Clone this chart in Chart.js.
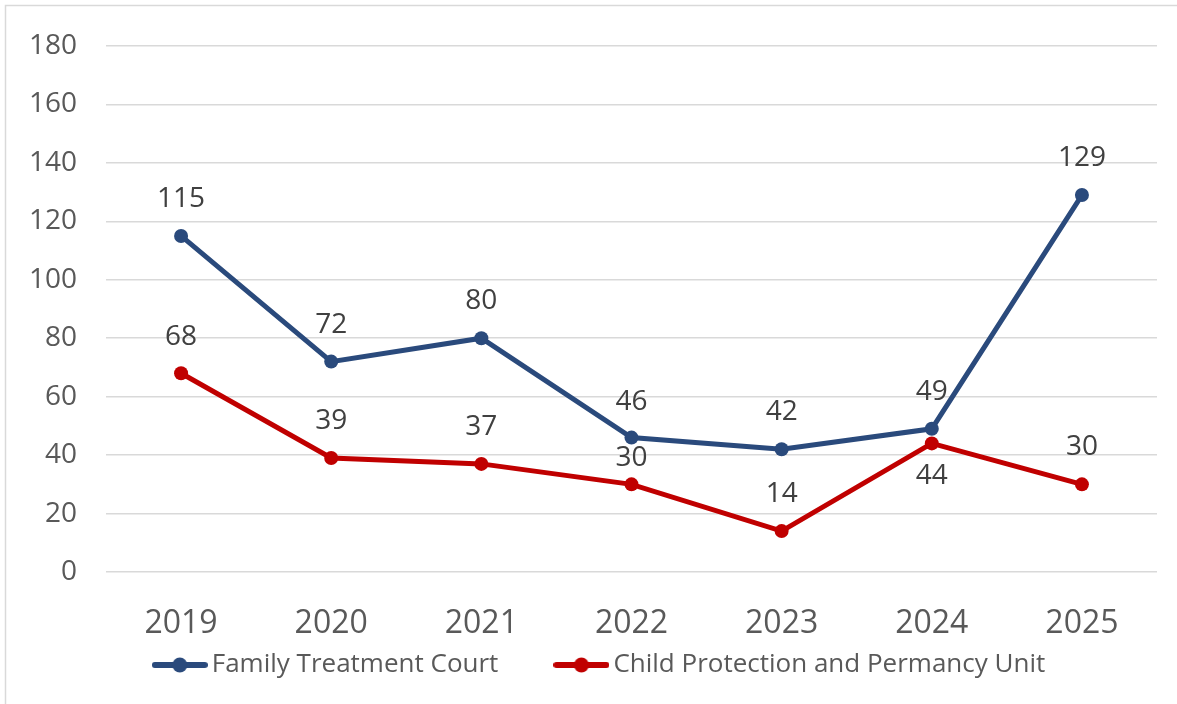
<!DOCTYPE html>
<html>
<head>
<meta charset="utf-8">
<script src="https://cdn.jsdelivr.net/npm/chart.js@4.4.1/dist/chart.umd.min.js"></script>
<style>
    html, body { margin: 0; padding: 0; background: #fff; }
    #wrap { position: relative; width: 1177px; height: 704px; }
</style>
</head>
<body>
<div id="wrap"><canvas id="courtChart"></canvas></div>
<script>
// chart data
const years = ['2019', '2020', '2021', '2022', '2023', '2024', '2025'];
const familyCourt = [115, 72, 80, 46, 42, 49, 129];
const childProtection = [68, 39, 37, 30, 14, 44, 30];
const yTicks = [0, 20, 40, 60, 80, 100, 120, 140, 160, 180];

const BLUE = '#2A4A7C';
const RED = '#C00000';
const FONT = '"Open Sans", "Liberation Sans", sans-serif';

// small line+marker icon for the legend
function legendIcon(color) {
    const c = document.createElement('canvas');
    c.width = 56;
    c.height = 16;
    const g = c.getContext('2d');
    g.strokeStyle = color;
    g.lineWidth = 6;
    g.lineCap = 'round';
    g.beginPath();
    g.moveTo(3, 8);
    g.lineTo(53, 8);
    g.stroke();
    g.fillStyle = color;
    g.beginPath();
    g.arc(28, 8, 7.5, 0, Math.PI * 2);
    g.fill();
    return c;
}

// value labels (offsets in px from the point, negative = above)
const labelOffsets = [
    [-37, -37, -37, -36, -37, -37, -37],
    [-36, -37, -37, -26, -37, 33, -37]
];

const valueLabels = {
    id: 'valueLabels',
    afterDatasetsDraw(chart) {
        const ctx = chart.ctx;
        ctx.save();
        ctx.font = '28px ' + FONT;
        ctx.fillStyle = '#404040';
        ctx.textAlign = 'center';
        ctx.textBaseline = 'middle';
        chart.data.datasets.forEach((ds, i) => {
            const meta = chart.getDatasetMeta(i);
            meta.data.forEach((pt, j) => {
                ctx.fillText(String(ds.data[j]), pt.x, pt.y + labelOffsets[i][j]);
            });
        });
        ctx.restore();
    }
};

// outer frame (only top and left edges are visible in the crop) + legend nudge
const frameLines = {
    id: 'frameLines',
    afterLayout(chart) {
        if (chart.legend) {
            chart.legend.left += 10;
            chart.legend.right += 10;
        }
    },
    beforeDraw(chart) {
        const ctx = chart.ctx;
        ctx.save();
        ctx.strokeStyle = '#d9d9d9';
        ctx.lineWidth = 1.5;
        ctx.beginPath();
        ctx.moveTo(5.5, chart.height);
        ctx.lineTo(5.5, 5.5);
        ctx.lineTo(chart.width, 5.5);
        ctx.stroke();
        ctx.restore();
    }
};

const icons = [legendIcon(BLUE), legendIcon(RED)];

new Chart(document.getElementById('courtChart'), {
    type: 'line',
    data: {
        labels: years,
        datasets: [{
            label: 'Family Treatment Court',
            data: familyCourt,
            borderColor: BLUE,
            backgroundColor: BLUE,
            borderWidth: 5,
            pointRadius: 7,
            pointHoverRadius: 7,
            pointBackgroundColor: BLUE,
            pointBorderWidth: 0,
            tension: 0
        }, {
            label: 'Child Protection and Permancy Unit',
            data: childProtection,
            borderColor: RED,
            backgroundColor: RED,
            borderWidth: 5,
            pointRadius: 7,
            pointHoverRadius: 7,
            pointBackgroundColor: RED,
            pointBorderWidth: 0,
            tension: 0
        }]
    },
    options: {
        responsive: true,
        maintainAspectRatio: false,
        animation: false,
        layout: { padding: { top: 46, left: 29, right: 20, bottom: 16 } },
        scales: {
            x: {
                offset: true,
                grid: { display: false },
                border: { display: false },
                ticks: { color: '#595959', font: { family: FONT, size: 32 }, padding: 25 },
                afterFit: scale => { scale.height = 70; }
            },
            y: {
                min: 0,
                max: 180,
                afterBuildTicks: scale => { scale.ticks = yTicks.map(v => ({ value: v })); },
                grid: { color: '#d9d9d9', lineWidth: 1.5, drawTicks: false },
                border: { display: false },
                ticks: { color: '#595959', font: { family: FONT, size: 28 }, padding: 29 },
                afterFit: scale => { scale.width = 77; }
            }
        },
        plugins: {
            tooltip: { enabled: false },
            legend: {
                position: 'bottom',
                labels: {
                    usePointStyle: true,
                    pointStyleWidth: 38,
                    padding: 10,
                    color: '#595959',
                    font: { family: FONT, size: 26 },
                    generateLabels(chart) {
                        return chart.data.datasets.map((ds, i) => ({
                            // trailing spaces give the gap between the two entries
                            text: i === 0 ? ds.label + '\u00A0'.repeat(8) : ds.label,
                            fillStyle: ds.borderColor,
                            strokeStyle: ds.borderColor,
                            fontColor: '#595959',
                            lineWidth: 0,
                            pointStyle: icons[i],
                            hidden: false,
                            datasetIndex: i
                        }));
                    }
                }
            }
        }
    },
    plugins: [valueLabels, frameLines]
});
</script>
</body>
</html>
